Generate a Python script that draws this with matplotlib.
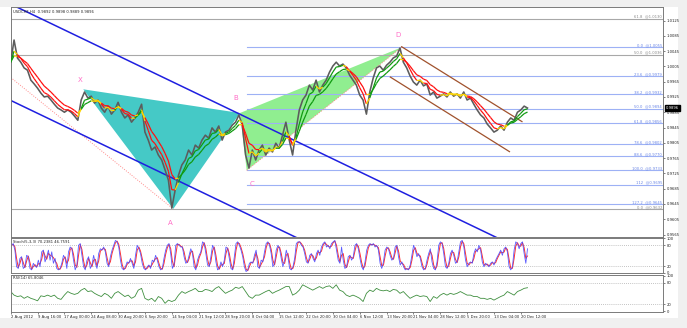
import numpy as np
import pandas as pd
import matplotlib
matplotlib.use("Agg")
import matplotlib.pyplot as plt
from matplotlib.collections import LineCollection
from matplotlib.patches import Polygon, Rectangle

# ------------------------------------------------------------------ data
# USDCHF H4 closes, one value every 4 bars
close = [1.0016, 1.0074, 1.0027, 1.0016, 1.0001, 0.9995, 0.9969, 0.9959, 0.9948, 0.9935,
         0.9925, 0.9927, 0.9917, 0.9906, 0.9896, 0.9891, 0.9885, 0.9891, 0.9885, 0.9875,
         0.9864, 0.9917, 0.9938, 0.9922, 0.9927, 0.9909, 0.9917, 0.9896, 0.9885, 0.9901,
         0.9880, 0.9891, 0.9911, 0.9885, 0.9870, 0.9878, 0.9859, 0.9870, 0.9885, 0.9906,
         0.9833, 0.9812, 0.9786, 0.9794, 0.9773, 0.9760, 0.9734, 0.9707, 0.9634, 0.9681,
         0.9720, 0.9747, 0.9760, 0.9786, 0.9773, 0.9799, 0.9791, 0.9812, 0.9825, 0.9817,
         0.9844, 0.9833, 0.9849, 0.9812, 0.9833, 0.9838, 0.9851, 0.9859, 0.9878, 0.9851,
         0.9773, 0.9739, 0.9786, 0.9760, 0.9786, 0.9799, 0.9773, 0.9791, 0.9781, 0.9804,
         0.9791, 0.9825, 0.9859, 0.9812, 0.9773, 0.9838, 0.9891, 0.9917, 0.9930, 0.9956,
         0.9943, 0.9969, 0.9938, 0.9956, 0.9969, 0.9990, 1.0006, 1.0016, 1.0006, 1.0011,
         1.0001, 0.9982, 0.9969, 0.9956, 0.9930, 0.9917, 0.9880, 0.9938, 0.9974, 1.0001,
         1.0006, 0.9995, 1.0008, 1.0016, 1.0027, 1.0032, 1.0053, 1.0016, 1.0001, 0.9980,
         0.9964, 0.9956, 0.9969, 0.9954, 0.9959, 0.9930, 0.9938, 0.9922, 0.9927, 0.9933,
         0.9925, 0.9938, 0.9927, 0.9933, 0.9922, 0.9938, 0.9917, 0.9922, 0.9906, 0.9891,
         0.9878, 0.9870, 0.9854, 0.9844, 0.9833, 0.9838, 0.9849, 0.9838, 0.9859, 0.9870,
         0.9864, 0.9885, 0.9891, 0.9901, 0.9896]
close_step = 4

stoch_main = [80, 85, 66, 18, 13, 42, 47, 13, 18, 51, 47, 13, 9, 28, 20, 16, 37, 18, 61, 66,
              32, 47, 66, 37, 61, 28, 42, 13, 9, 13, 28, 51, 42, 13, 61, 75, 70, 37, 9, 23,
              80, 85, 51, 18, 9, 37, 47, 13, 23, 51, 28, 13, 56, 70, 66, 75, 61, 28, 18, 47,
              66, 80, 94, 90, 75, 37, 13, 9, 18, 32, 28, 42, 28, 13, 51, 80, 70, 56, 28, 13,
              9, 18, 23, 13, 37, 32, 51, 37, 18, 9, 13, 42, 66, 80, 85, 56, 13, 23, 80, 85,
              80, 75, 75, 47, 28, 32, 51, 70, 56, 18, 9, 37, 51, 61, 90, 85, 56, 23, 18, 47,
              80, 70, 32, 9, 13, 32, 18, 37, 75, 70, 42, 13, 9, 47, 85, 90, 80, 66, 47, 18,
              4, 9, 28, 32, 28, 51, 66, 18, 13, 37, 32, 61, 85, 90, 80, 56, 18, 28, 66, 80,
              70, 42, 18, 37, 66, 47, 13, 9, 18, 42, 85, 90, 90, 80, 75, 56, 32, 28, 51, 56,
              42, 32, 56, 66, 51, 75, 85, 90, 75, 80, 70, 85, 90, 94, 66, 37, 28,
              75, 37, 13, 18, 47, 51, 37, 47, 80, 85, 70, 42, 18, 9, 32, 66, 80, 85, 80, 85,
              75, 80, 66, 28, 13, 32, 66, 75, 70, 51, 37, 42, 75, 80, 47, 23, 32, 18, 9, 13,
              9, 23, 51, 80, 66, 47, 56, 42, 18, 9, 13, 37, 56, 70, 32, 13, 9, 32, 80, 90,
              85, 56, 18, 13, 28, 56, 66, 51, 28, 32, 61, 90, 94, 75, 37, 18, 28, 32, 28, 56,
              70, 61, 80, 66, 32, 18, 28, 23, 18, 28, 32, 23, 37, 47, 56, 66, 51, 70, 75, 61,
              18, 9, 18, 66, 90, 85, 70, 85, 90, 56, 28, 70]

rsi = [55, 45, 41, 43, 36, 41, 36, 33, 29, 43, 41, 45, 41, 45, 36, 33, 45, 55, 50, 47,
       50, 59, 64, 55, 57, 50, 45, 41, 50, 45, 36, 50, 55, 48, 41, 45, 36, 41, 59, 64,
       36, 31, 36, 27, 41, 36, 22, 31, 27, 31, 45, 55, 50, 55, 59, 64, 55, 55, 61, 59,
       55, 64, 69, 59, 50, 55, 59, 67, 64, 69, 55, 41, 36, 45, 45, 50, 55, 59, 50, 55,
       59, 64, 69, 69, 45, 50, 59, 74, 69, 64, 59, 64, 69, 64, 69, 71, 64, 74, 59,
       55, 45, 41, 45, 41, 36, 27, 50, 59, 55, 64, 59, 57, 59, 55, 61, 59, 50, 55, 45,
       36, 41, 45, 41, 43, 41, 27, 41, 36, 45, 50, 45, 50, 47, 50, 55, 50, 45, 45, 41,
       41, 36, 36, 33, 36, 31, 36, 41, 45, 55, 50, 45, 55, 59, 64, 65.8]
rsi_step = 4

date_labels = ["2 Aug 2012", "9 Aug 16:00", "17 Aug 00:00", "24 Aug 08:00", "30 Aug 20:00",
               "6 Sep 20:00", "14 Sep 04:00", "21 Sep 12:00", "28 Sep 20:00", "8 Oct 04:00",
               "15 Oct 12:00", "22 Oct 20:00", "30 Oct 04:00", "6 Nov 12:00", "13 Nov 20:00",
               "21 Nov 04:00", "28 Nov 12:00", "5 Dec 20:00", "13 Dec 04:00", "20 Dec 12:00"]
date_tick_bars = [0, 32, 64, 96, 128, 160, 192, 224, 256, 288, 320, 352, 384, 416, 448,
                  480, 512, 544, 576, 608]

price_ticks = [1.0125, 1.0085, 1.0045, 1.0005, 0.9965, 0.9925, 0.9885, 0.9845, 0.9805,
               0.9765, 0.9725, 0.9685, 0.9645, 0.9605, 0.9565]

fib_blue_levels = [1.0055, 0.9979, 0.9932, 0.9894, 0.9856, 0.9802, 0.9770, 0.9733, 0.9695, 0.9645]
fib_blue_names = ["0.0", "23.6", "38.2", "50.0", "61.8", "78.6", "88.6", "100.0", "112", "127.2"]
fib_gray_levels = [1.0130, 1.0036, 0.9632]
fib_gray_names = ["61.8", "50.0", "0.0"]

pattern_names = ["X", "A", "B", "C", "D"]
pattern_bars = [86.5, 193.8, 273.3, 281.3, 466.0]
pattern_prices = [0.9945, 0.9632, 0.9883, 0.9733, 1.0055]

# trend lines: (bar1, price1, bar2, price2)
blue_channel = [(7.5, 1.0160, 573.6, 0.9563), (-0.8, 0.99168, 338.9, 0.95588)]
brown_channel = [(466.0, 1.00564, 609.4, 0.98605), (452.5, 0.99770, 594.5, 0.97819)]
pink_dotted = [(0.0, 0.9976, 193.8, 0.9632), (281.3, 0.9733, 466.0, 1.0055)]

header = "USDCHF,H4  0.9892 0.9898 0.9889 0.9896"
stoch_header = "Stoch(5,3,3) 70.2381 46.7591"
rsi_header = "RSI(14) 65.8046"
last_price = 0.9896

# ------------------------------------------------------------------ layout
W, H = 687, 328
fig = plt.figure(figsize=(W / 100, H / 100), dpi=100, facecolor="#f0f0f0")
fig.patches.append(Rectangle((0, 1 - 318 / H), 678 / W, (318 - 7) / H,
                             transform=fig.transFigure, fc="white", ec="none", zorder=-10))

def ax_at(x0, x1, y0, y1):
    return fig.add_axes([x0 / W, 1 - y1 / H, (x1 - x0) / W, (y1 - y0) / H])

ax = ax_at(10.5, 663, 7, 236.7)
ax_st = ax_at(10.5, 663, 238.2, 273.3)
ax_rsi = ax_at(10.5, 663, 275, 311.5)

XMIN, XMAX = -0.24, 777.5
FS = 2.7
for a in (ax, ax_st, ax_rsi):
    a.set_xlim(XMIN, XMAX)
    a.set_facecolor("white")
    for sp in a.spines.values():
        sp.set_color("#7a7a7a")
        sp.set_linewidth(0.7)
    a.yaxis.tick_right()
    a.tick_params(axis="y", length=1.5, width=0.4, pad=1, labelsize=FS, colors="#222222")
    a.tick_params(axis="x", length=0, labelbottom=False)

ax.set_ylim(0.95593, 1.01604)
ax.set_yticks(price_ticks)
ax.set_yticklabels([f"{v:.4f}" for v in price_ticks])

# ------------------------------------------------------------------ main panel
px = dict(zip(pattern_names, zip(pattern_bars, pattern_prices)))
ax.add_patch(Polygon([px["X"], px["A"], px["B"]], closed=True, fc="#45c9c6", ec="none", zorder=1))
ax.add_patch(Polygon([px["B"], px["C"], px["D"]], closed=True, fc="#90ee90", ec="none", zorder=1))

for lvl, nm in zip(fib_gray_levels, fib_gray_names):
    ax.axhline(lvl, color="#a8a8a8", lw=0.8, zorder=1.5)
    ax.text(XMAX - 1, lvl, f"{nm}  @{lvl:.4f}", ha="right", va="bottom",
            fontsize=FS, color="#8a8a8a", zorder=5)
for lvl, nm in zip(fib_blue_levels, fib_blue_names):
    ax.plot([pattern_bars[3], XMAX], [lvl, lvl], color="#9db1f5", lw=0.8, zorder=1.5)
    ax.text(XMAX - 1, lvl, f"{nm}  @{lvl:.4f}", ha="right", va="bottom",
            fontsize=FS, color="#6a86e6", zorder=5)

for (b1, p1, b2, p2) in blue_channel:
    slope = (p2 - p1) / (b2 - b1)
    xs = np.array([XMIN - 10, XMAX + 10])
    ax.plot(xs, p1 + slope * (xs - b1), color="#1f1fe0", lw=1.1, zorder=2.5)
for (b1, p1, b2, p2) in brown_channel:
    ax.plot([b1, b2], [p1, p2], color="#a0522d", lw=0.9, zorder=2.5)
for (b1, p1, b2, p2) in pink_dotted:
    ax.plot([b1, b2], [p1, p2], color="#ff8a8a", lw=0.7, ls=(0, (1, 1.5)), zorder=2.4)

cx = np.arange(len(close)) * close_step
ax.plot(cx, close, color="#5c5c5c", lw=1.15, zorder=3)

s = pd.Series(close)
def colored_ma(y):
    y = np.asarray(y)
    pts = np.column_stack([cx, y])
    segs = np.stack([pts[:-1], pts[1:]], axis=1)
    d = np.diff(y)
    cols = np.where(d >= 0, "#109a10", "#ff1010").astype(object)
    turn = np.r_[False, np.sign(d[1:]) != np.sign(d[:-1])]
    cols[turn] = "#ffd700"
    ax.add_collection(LineCollection(segs, colors=list(cols), linewidths=0.9, zorder=4))

colored_ma(s.ewm(span=3, adjust=False).mean())
colored_ma(s.ewm(span=6, adjust=False).mean())

for nm, (dx, dy) in zip(pattern_names, [(-2, 7), (-2, -10), (-3, 11), (4, -10), (-2.5, 8.5)]):
    b, p = px[nm]
    ax.annotate(nm, (b, p), xytext=(dx, dy), textcoords="offset points", ha="center",
                va="center", fontsize=5, color="#ff6ec7", zorder=6)

ax.text(0.0035, 0.988, header, transform=ax.transAxes, ha="left", va="top",
        fontsize=FS, color="#222222")
ax.text(1.004, last_price, f"{last_price:.4f}", transform=ax.get_yaxis_transform(),
        ha="left", va="center", fontsize=FS, color="white", zorder=7,
        bbox=dict(boxstyle="square,pad=0.25", fc="black", ec="black"), clip_on=False)

# ------------------------------------------------------------------ stochastic
sx = np.linspace(1, len(close) * close_step - 4, len(stoch_main))
sig = pd.Series(stoch_main).rolling(2, min_periods=1).mean()
ax_st.set_ylim(-1, 100.5)
for lv in (20, 80):
    ax_st.axhline(lv, color="#b0b0b0", lw=0.6, ls=(0, (1, 1.5)))
ax_st.plot(sx, sig, color="#ff3030", lw=0.7)
ax_st.plot(sx, stoch_main, color="#4a4aff", lw=0.6, alpha=0.9)
ax_st.set_yticks([0, 20, 80, 100])
ax_st.set_yticklabels(["0", "20", "80", "100"])
ax_st.text(0.0035, 0.96, stoch_header, transform=ax_st.transAxes, ha="left", va="top",
           fontsize=FS, color="#222222")

# ------------------------------------------------------------------ RSI
rx = np.arange(len(rsi)) * rsi_step
ax_rsi.set_ylim(-1, 101.5)
for lv in (20, 80):
    ax_rsi.axhline(lv, color="#b0b0b0", lw=0.6, ls=(0, (1, 1.5)))
ax_rsi.plot(rx, rsi, color="#3f8f3f", lw=0.6)
ax_rsi.set_yticks([0, 20, 80, 100])
ax_rsi.set_yticklabels(["0", "20", "80", "100"])
ax_rsi.text(0.0035, 0.96, rsi_header, transform=ax_rsi.transAxes, ha="left", va="top",
            fontsize=FS, color="#222222")

ax_rsi.set_xticks(date_tick_bars)
ax_rsi.set_xticklabels(date_labels, ha="left")
ax_rsi.tick_params(axis="x", length=1.5, width=0.4, pad=1.2, labelsize=FS,
                   labelbottom=True, colors="#222222")

fig.savefig("out.png", dpi=100, facecolor=fig.get_facecolor())
